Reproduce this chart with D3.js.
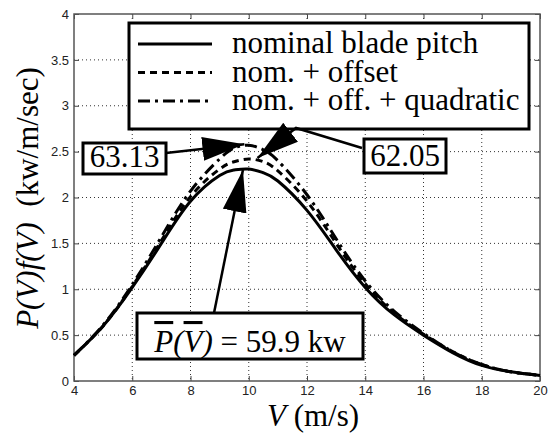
<!DOCTYPE html>
<html>
<head>
<meta charset="utf-8">
<script src="https://cdn.jsdelivr.net/npm/d3@7"></script>
<style>
  body { margin: 0; background: #fff; }
  svg { display: block; }
  .tick text { font-family: "Liberation Sans", Arial, sans-serif; font-size: 13px; fill: #222; }
</style>
</head>
<body>
<svg id="chart"></svg>
<script>
// wind speed samples (m/s)
const windSpeed = [4, 5, 6, 7, 8, 9, 9.5, 10, 10.5, 11, 12, 13, 14, 15, 16, 17, 18, 19, 20];
// P(V) f(V) in kw/m/sec
const nominal   = [0.28, 0.60, 1.02, 1.50, 1.96, 2.24, 2.30, 2.31, 2.27, 2.18, 1.86, 1.43, 1.02, 0.72, 0.50, 0.31, 0.17, 0.10, 0.06];
const offset    = [0.28, 0.60, 1.03, 1.53, 2.01, 2.31, 2.39, 2.42, 2.39, 2.29, 1.96, 1.50, 1.06, 0.74, 0.51, 0.32, 0.18, 0.10, 0.06];
const quadratic = [0.28, 0.61, 1.05, 1.57, 2.07, 2.42, 2.54, 2.57, 2.52, 2.40, 2.03, 1.55, 1.09, 0.76, 0.52, 0.32, 0.18, 0.10, 0.06];

const xTicks = [4, 6, 8, 10, 12, 14, 16, 18, 20];
const yTicks = [0, 0.5, 1, 1.5, 2, 2.5, 3, 3.5, 4];
const legendLabels = ['nominal blade pitch', 'nom. + offset', 'nom. + off. + quadratic'];
const dashes = [null, '7,5', '12,5,3,5'];

const SERIF = 'Liberation Serif';

const width = 548, height = 433;
const margin = { top: 14, right: 8, bottom: 52, left: 74 };
const w = width - margin.left - margin.right;
const h = height - margin.top - margin.bottom;

const svg = d3.select('#chart').attr('width', width).attr('height', height);
const chart = svg.append('g').attr('transform', `translate(${margin.left},${margin.top})`);

const x = d3.scaleLinear().domain([4, 20]).range([0, w]);
const y = d3.scaleLinear().domain([0, 4]).range([h, 0]);

// grid (dotted, matlab style)
const grid = chart.append('g')
  .attr('stroke', '#333').attr('stroke-width', 1).attr('stroke-dasharray', '1,3');
grid.selectAll('line.gx').data(xTicks.slice(1, -1)).join('line')
    .attr('class', 'gx')
    .attr('x1', d => x(d)).attr('x2', d => x(d))
    .attr('y1', 0).attr('y2', h);
grid.selectAll('line.gy').data(yTicks.slice(1, -1)).join('line')
    .attr('class', 'gy')
    .attr('y1', d => y(d)).attr('y2', d => y(d))
    .attr('x1', 0).attr('x2', w);

// axes with inward ticks
const fmt = d => d3.format('~g')(d);
chart.append('g').attr('transform', `translate(0,${h})`)
  .call(d3.axisBottom(x).tickValues(xTicks).tickSize(-5).tickPadding(5).tickFormat(fmt))
  .call(g => g.select('.domain').remove());
chart.append('g')
  .call(d3.axisLeft(y).tickValues(yTicks).tickSize(-5).tickPadding(5).tickFormat(fmt))
  .call(g => g.select('.domain').remove());
chart.append('g')
  .call(d3.axisTop(x).tickValues(xTicks).tickSize(-5).tickFormat(''))
  .call(g => g.select('.domain').remove());
chart.append('g').attr('transform', `translate(${w},0)`)
  .call(d3.axisRight(y).tickValues(yTicks).tickSize(-5).tickFormat(''))
  .call(g => g.select('.domain').remove());
chart.selectAll('.tick line').attr('stroke', '#444');

chart.append('rect')
  .attr('width', w).attr('height', h)
  .attr('fill', 'none').attr('stroke', '#555').attr('stroke-width', 1.5);

// curves
const line = d3.line()
  .x((d, i) => x(windSpeed[i]))
  .y(d => y(d))
  .curve(d3.curveNatural);

[nominal, offset, quadratic].forEach((s, i) => {
  chart.append('path')
    .datum(s)
    .attr('d', line)
    .attr('fill', 'none')
    .attr('stroke', '#000')
    .attr('stroke-width', 3)
    .attr('stroke-dasharray', dashes[i]);
});

// legend
const lg = svg.append('g');
lg.append('rect')
  .attr('x', 129).attr('y', 23).attr('width', 400).attr('height', 106)
  .attr('fill', '#fff').attr('stroke', '#000').attr('stroke-width', 3);
legendLabels.forEach((t, i) => {
  const cy = 44 + i * 28.5;
  lg.append('line')
    .attr('x1', 138).attr('x2', 212).attr('y1', cy).attr('y2', cy)
    .attr('stroke', '#000').attr('stroke-width', 3)
    .attr('stroke-dasharray', dashes[i]);
  lg.append('text')
    .attr('x', 232).attr('y', cy + 9)
    .attr('font-family', SERIF)
    .attr('font-size', 31)
    .text(t);
});

// annotations
const defs = svg.append('defs');
defs.append('marker')
  .attr('id', 'head').attr('viewBox', '0 0 42 24')
  .attr('refX', 42).attr('refY', 12)
  .attr('markerWidth', 42).attr('markerHeight', 24)
  .attr('markerUnits', 'userSpaceOnUse')
  .attr('orient', 'auto')
  .append('path').attr('d', 'M0,0 L42,12 L0,24 Z').attr('fill', '#000');

function label(bx, by, bw, bh, build) {
  svg.append('rect')
    .attr('x', bx).attr('y', by).attr('width', bw).attr('height', bh)
    .attr('fill', '#fff').attr('stroke', '#000').attr('stroke-width', 3);
  const t = svg.append('text')
    .attr('font-family', SERIF).attr('font-size', 31)
    .attr('x', bx + bw / 2).attr('y', by + bh - 7).attr('text-anchor', 'middle');
  build(t);
}

const arrowStyle = p => p.attr('fill', 'none').attr('stroke', '#000').attr('stroke-width', 2.5)
  .attr('marker-end', 'url(#head)');

// 63.13 -> quadratic peak
svg.append('path').attr('d', `M166,153 L${margin.left + x(9.85)},${margin.top + y(2.58)}`).call(arrowStyle);
// 62.05 -> offset peak
svg.append('path').attr('d', `M362,148 L296,128 L${margin.left + x(10.3)},${margin.top + y(2.43)}`).call(arrowStyle);
// 59.9 -> nominal peak
svg.append('path').attr('d', `M214,313 L${margin.left + x(9.8)},${margin.top + y(2.3)}`).call(arrowStyle);

label(83, 143, 83, 31, t => t.text('63.13'));
label(364, 139, 82, 34, t => t.text('62.05'));
label(137, 313, 226, 46, t => {
  t.append('tspan').attr('font-style', 'italic').attr('text-decoration', 'overline').text('P');
  t.append('tspan').attr('font-style', 'italic').text('(');
  t.append('tspan').attr('font-style', 'italic').attr('text-decoration', 'overline').text('V');
  t.append('tspan').attr('font-style', 'italic').text(')');
  t.append('tspan').text(' = 59.9 kw');
});

// axis titles
const xt = svg.append('text')
  .attr('font-family', SERIF).attr('font-size', 31)
  .attr('x', margin.left + w / 2 + 6).attr('y', 426).attr('text-anchor', 'middle');
xt.append('tspan').attr('font-style', 'italic').text('V');
xt.append('tspan').text(' (m/s)');

const yt = svg.append('text')
  .attr('font-family', SERIF).attr('font-size', 31)
  .style('white-space', 'pre')
  .attr('transform', 'translate(38,198) rotate(-90)')
  .attr('text-anchor', 'middle');
yt.append('tspan').attr('font-style', 'italic').text('P(V)f(V)');
yt.append('tspan').text('  (kw/m/sec)');
</script>
</body>
</html>
